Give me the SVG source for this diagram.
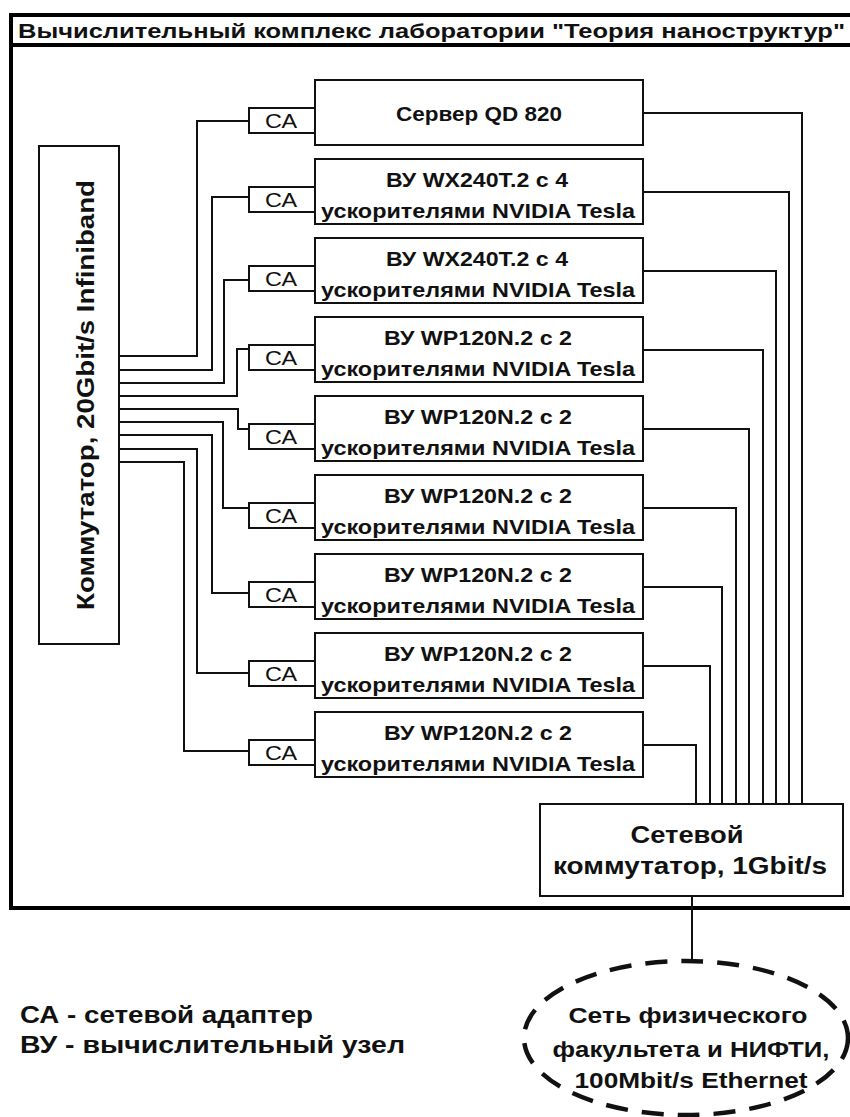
<svg xmlns="http://www.w3.org/2000/svg" width="850" height="1117" viewBox="0 0 850 1117">
<style>
.box{fill:#fff;stroke:#111;stroke-width:2}
.ln{fill:none;stroke:#111;stroke-width:2}
.t{font-family:"Liberation Sans",Arial,sans-serif;font-weight:bold;fill:#111;text-anchor:middle}
.n{font-size:21px}
.ca{font-size:20px;font-weight:normal}
</style>
<rect width="850" height="1117" fill="#fff"/>
<g id="frame">
<rect x="11" y="15" width="860" height="893" fill="none" stroke="#000" stroke-width="4"/>
<line x1="11" y1="45" x2="850" y2="45" stroke="#000" stroke-width="4"/>
<text class="t" x="18" y="38" style="font-size:21px;text-anchor:start" textLength="827" lengthAdjust="spacingAndGlyphs">Вычислительный комплекс лаборатории "Теория наноструктур"</text>
</g>
<g id="connectors">
<path class="ln" d="M119,356 H197 V121 H249"/>
<path class="ln" d="M119,370 H212 V197 H249"/>
<path class="ln" d="M119,383 H224 V280 H249"/>
<path class="ln" d="M119,396 H237 V349 H249"/>
<path class="ln" d="M119,409 H238 V429 H249"/>
<path class="ln" d="M119,422 H223 V508 H249"/>
<path class="ln" d="M119,435 H212 V593 H249"/>
<path class="ln" d="M119,449 H197 V673 H249"/>
<path class="ln" d="M119,462 H184 V751 H249"/>
<path class="ln" d="M643,113 H802 V804"/>
<path class="ln" d="M643,192 H789 V804"/>
<path class="ln" d="M643,271 H776 V804"/>
<path class="ln" d="M643,350 H763 V804"/>
<path class="ln" d="M643,429 H749 V804"/>
<path class="ln" d="M643,508 H736 V804"/>
<path class="ln" d="M643,587 H722 V804"/>
<path class="ln" d="M643,666 H710 V804"/>
<path class="ln" d="M643,745 H696 V804"/>
<path class="ln" d="M692,896 V960"/>
</g>
<g id="ib-switch">
<rect class="box" x="39" y="146" width="80" height="498"/>
<text class="t" transform="translate(94,395) rotate(-90)" style="font-size:24px" textLength="430" lengthAdjust="spacingAndGlyphs">Коммутатор, 20Gbit/s Infiniband</text>
</g>
<g id="node1">
<rect class="box" x="315" y="80" width="328" height="65"/>
<text class="t n" x="479" y="121" textLength="166" lengthAdjust="spacingAndGlyphs">Сервер QD 820</text>
<rect class="box" x="249" y="108" width="66" height="25"/>
<text class="t ca" x="281" y="128" textLength="32" lengthAdjust="spacingAndGlyphs">СА</text>
</g>
<g id="node2">
<rect class="box" x="315" y="159" width="328" height="65"/>
<text class="t n" x="477" y="187" textLength="182" lengthAdjust="spacingAndGlyphs">ВУ WX240T.2 с 4</text>
<text class="t n" x="478" y="218" textLength="314" lengthAdjust="spacingAndGlyphs">ускорителями NVIDIA Tesla</text>
<rect class="box" x="249" y="187" width="66" height="25"/>
<text class="t ca" x="281" y="207" textLength="32" lengthAdjust="spacingAndGlyphs">СА</text>
</g>
<g id="node3">
<rect class="box" x="315" y="238" width="328" height="65"/>
<text class="t n" x="477" y="266" textLength="182" lengthAdjust="spacingAndGlyphs">ВУ WX240T.2 с 4</text>
<text class="t n" x="478" y="297" textLength="314" lengthAdjust="spacingAndGlyphs">ускорителями NVIDIA Tesla</text>
<rect class="box" x="249" y="266" width="66" height="25"/>
<text class="t ca" x="281" y="286" textLength="32" lengthAdjust="spacingAndGlyphs">СА</text>
</g>
<g id="node4">
<rect class="box" x="315" y="317" width="328" height="65"/>
<text class="t n" x="478" y="345" textLength="188" lengthAdjust="spacingAndGlyphs">ВУ WP120N.2 с 2</text>
<text class="t n" x="478" y="376" textLength="314" lengthAdjust="spacingAndGlyphs">ускорителями NVIDIA Tesla</text>
<rect class="box" x="249" y="345" width="66" height="25"/>
<text class="t ca" x="281" y="365" textLength="32" lengthAdjust="spacingAndGlyphs">СА</text>
</g>
<g id="node5">
<rect class="box" x="315" y="396" width="328" height="65"/>
<text class="t n" x="478" y="424" textLength="188" lengthAdjust="spacingAndGlyphs">ВУ WP120N.2 с 2</text>
<text class="t n" x="478" y="455" textLength="314" lengthAdjust="spacingAndGlyphs">ускорителями NVIDIA Tesla</text>
<rect class="box" x="249" y="424" width="66" height="25"/>
<text class="t ca" x="281" y="444" textLength="32" lengthAdjust="spacingAndGlyphs">СА</text>
</g>
<g id="node6">
<rect class="box" x="315" y="475" width="328" height="65"/>
<text class="t n" x="478" y="503" textLength="188" lengthAdjust="spacingAndGlyphs">ВУ WP120N.2 с 2</text>
<text class="t n" x="478" y="534" textLength="314" lengthAdjust="spacingAndGlyphs">ускорителями NVIDIA Tesla</text>
<rect class="box" x="249" y="503" width="66" height="25"/>
<text class="t ca" x="281" y="523" textLength="32" lengthAdjust="spacingAndGlyphs">СА</text>
</g>
<g id="node7">
<rect class="box" x="315" y="554" width="328" height="65"/>
<text class="t n" x="478" y="582" textLength="188" lengthAdjust="spacingAndGlyphs">ВУ WP120N.2 с 2</text>
<text class="t n" x="478" y="613" textLength="314" lengthAdjust="spacingAndGlyphs">ускорителями NVIDIA Tesla</text>
<rect class="box" x="249" y="582" width="66" height="25"/>
<text class="t ca" x="281" y="602" textLength="32" lengthAdjust="spacingAndGlyphs">СА</text>
</g>
<g id="node8">
<rect class="box" x="315" y="633" width="328" height="65"/>
<text class="t n" x="478" y="661" textLength="188" lengthAdjust="spacingAndGlyphs">ВУ WP120N.2 с 2</text>
<text class="t n" x="478" y="692" textLength="314" lengthAdjust="spacingAndGlyphs">ускорителями NVIDIA Tesla</text>
<rect class="box" x="249" y="661" width="66" height="25"/>
<text class="t ca" x="281" y="681" textLength="32" lengthAdjust="spacingAndGlyphs">СА</text>
</g>
<g id="node9">
<rect class="box" x="315" y="712" width="328" height="65"/>
<text class="t n" x="478" y="740" textLength="188" lengthAdjust="spacingAndGlyphs">ВУ WP120N.2 с 2</text>
<text class="t n" x="478" y="771" textLength="314" lengthAdjust="spacingAndGlyphs">ускорителями NVIDIA Tesla</text>
<rect class="box" x="249" y="740" width="66" height="25"/>
<text class="t ca" x="281" y="760" textLength="32" lengthAdjust="spacingAndGlyphs">СА</text>
</g>
<g id="net-switch">
<rect class="box" x="540" y="804" width="303" height="92"/>
<text class="t" x="687" y="843" style="font-size:23px" textLength="113" lengthAdjust="spacingAndGlyphs">Сетевой</text>
<text class="t" x="690" y="874" style="font-size:23px" textLength="274" lengthAdjust="spacingAndGlyphs">коммутатор, 1Gbit/s</text>
</g>
<g id="faculty-net">
<ellipse cx="686" cy="1038" rx="162" ry="77" fill="none" stroke="#111" stroke-width="4.5" stroke-dasharray="22 14"/>
<text class="t" x="688" y="1023" style="font-size:22px" textLength="239" lengthAdjust="spacingAndGlyphs">Сеть физического</text>
<text class="t" x="691" y="1057" style="font-size:22px" textLength="277" lengthAdjust="spacingAndGlyphs">факультета и НИФТИ,</text>
<text class="t" x="691" y="1088" style="font-size:22px" textLength="233" lengthAdjust="spacingAndGlyphs">100Mbit/s Ethernet</text>
</g>
<g id="legend">
<text class="t" x="20" y="1023" style="font-size:24px;text-anchor:start" textLength="293" lengthAdjust="spacingAndGlyphs">СА - сетевой адаптер</text>
<text class="t" x="20" y="1053" style="font-size:24px;text-anchor:start" textLength="385" lengthAdjust="spacingAndGlyphs">ВУ - вычислительный узел</text>
</g>
</svg>
